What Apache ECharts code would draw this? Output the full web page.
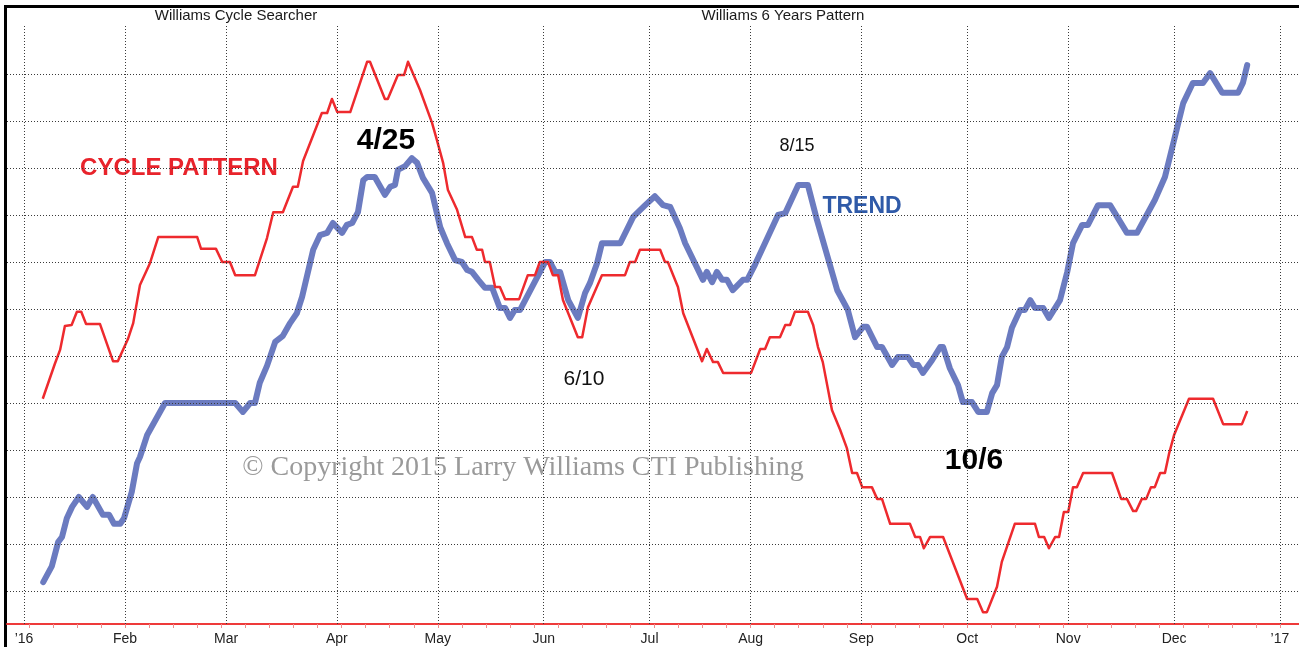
<!DOCTYPE html>
<html>
<head>
    <meta charset="utf-8">
    <title>Williams Cycle Pattern 2016</title>
    <script src="https://cdn.jsdelivr.net/npm/echarts@6/dist/echarts.min.js"></script>
    <style>
        html, body { margin: 0; padding: 0; background: #fff; }
    </style>
</head>
<body>
    <div id="main" style="width: 1299px;height:647px;"></div>
    <script type="text/javascript">
    // x = weekday index from Jan 1 2016, y = chart units (one dotted line per unit)
    var monthStarts = [0, 21, 42, 65, 86, 108, 130, 151, 174, 196, 217, 239, 261];
    var monthLabels = ['\u201916', 'Feb', 'Mar', 'Apr', 'May', 'Jun', 'Jul', 'Aug', 'Sep', 'Oct', 'Nov', 'Dec', '\u201917'];
    var gridLevels = [1, 2, 3, 4, 5, 6, 7, 8, 9, 10, 11, 12];

    // red line
    var cyclePattern = [
        [3.9,5.09],[6.4,5.83],[7.5,6.13],[8.5,6.64],[9.9,6.66],[11.0,6.94],[11.9,6.94],[12.9,6.68],[15.8,6.68],[18.5,5.89],
        [19.5,5.89],[21.6,6.36],[22.7,6.70],[24.1,7.51],[26.2,7.98],[27.9,8.53],[36.0,8.53],[36.8,8.28],[39.9,8.28],[41.2,8.0],
        [42.8,8.0],[43.9,7.72],[48.0,7.72],[50.5,8.51],[51.8,9.06],[53.8,9.06],[55.9,9.60],[56.9,9.60],[58.0,10.15],[61.9,11.17],
        [63.0,11.17],[64.0,11.47],[65.1,11.19],[67.8,11.19],[71.3,12.26],[71.9,12.26],[75.0,11.47],[75.6,11.47],[77.7,11.98],[79.0,11.98],
        [79.8,12.26],[82.3,11.66],[84.8,10.96],[85.8,10.60],[87.1,10.11],[88.1,9.53],[90.0,9.11],[91.7,8.53],[93.1,8.53],[94.1,8.26],
        [95.2,8.26],[95.8,8.0],[96.8,8.0],[97.9,7.47],[98.9,7.47],[100.0,7.21],[102.9,7.21],[104.7,7.72],[106.2,7.72],[107.2,8.0],
        [108.9,8.0],[109.9,7.72],[111.0,7.72],[112.0,7.19],[115.1,6.40],[116.0,6.40],[117.2,7.04],[120.1,7.72],[124.9,7.72],[125.9,8.0],
        [127.0,8.0],[128.0,8.26],[132.2,8.26],[133.2,8.0],[133.8,8.0],[135.9,7.47],[137.0,6.91],[140.9,5.89],[141.9,6.15],[143.2,5.87],
        [144.2,5.87],[145.3,5.64],[151.1,5.64],[153.0,6.15],[154.0,6.15],[155.0,6.40],[157.1,6.40],[158.2,6.66],[159.2,6.66],[160.2,6.94],
        [162.9,6.94],[164.0,6.66],[165.0,6.19],[166.0,5.87],[167.9,4.85],[169.6,4.43],[171.0,4.04],[172.1,3.51],[173.1,3.51],[174.2,3.21],
        [176.2,3.21],[177.3,2.96],[178.3,2.96],[180.0,2.43],[184.1,2.43],[185.2,2.15],[186.2,2.15],[187.0,1.91],[188.3,2.15],[191.0,2.15],
        [196.0,0.83],[198.1,0.83],[199.3,0.55],[200.1,0.55],[202.2,1.09],[203.2,1.62],[205.9,2.43],[210.1,2.43],[210.9,2.15],[212.0,2.15],
        [213.0,1.91],[214.3,2.15],[215.1,2.15],[216.1,2.68],[217.0,2.68],[218.0,3.21],[218.8,3.21],[220.1,3.51],[226.1,3.51],[228.0,2.96],
        [229.2,2.96],[230.5,2.70],[231.1,2.70],[232.3,2.96],[233.2,2.96],[234.2,3.21],[235.0,3.21],[236.1,3.51],[237.1,3.51],[238.0,3.94],
        [239.0,4.32],[242.1,5.09],[247.1,5.09],[249.2,4.55],[253.1,4.55],[254.2,4.83]
    ];

    // blue line
    var trend = [
        [4.0,1.19],[5.8,1.53],[7.1,2.04],[7.9,2.15],[8.9,2.55],[10.0,2.79],[11.4,3.0],[13.1,2.79],[14.3,3.0],[16.4,2.62],
        [17.7,2.62],[18.7,2.43],[20.0,2.43],[20.8,2.55],[22.4,3.11],[23.5,3.72],[24.1,3.85],[25.6,4.32],[29.3,5.0],[43.9,5.0],
        [45.5,4.81],[47.0,5.0],[48.0,5.0],[49.0,5.43],[50.5,5.79],[52.2,6.30],[53.8,6.43],[55.3,6.70],[56.7,6.91],[57.8,7.26],
        [60.1,8.26],[61.5,8.57],[63.0,8.62],[64.2,8.83],[66.1,8.62],[67.1,8.79],[68.2,8.83],[69.4,9.06],[70.5,9.74],[71.3,9.81],
        [72.9,9.81],[75.0,9.43],[76.1,9.60],[77.1,9.64],[77.7,9.96],[79.2,10.04],[80.6,10.21],[81.7,10.11],[82.9,9.79],[84.8,9.47],
        [86.5,8.74],[87.9,8.40],[89.6,8.04],[91.0,8.0],[92.1,7.83],[93.1,7.79],[94.4,7.62],[95.8,7.45],[97.3,7.45],[98.9,7.02],
        [100.0,7.02],[101.0,6.81],[102.0,6.98],[103.1,6.98],[108.3,8.0],[109.3,8.0],[110.4,7.79],[111.4,7.79],[113.1,7.19],[115.1,6.81],
        [116.6,7.34],[117.6,7.55],[119.1,7.98],[120.1,8.40],[123.9,8.40],[126.6,8.96],[127.6,9.06],[129.1,9.21],[131.1,9.40],[132.8,9.21],
        [134.3,9.17],[136.3,8.72],[137.4,8.40],[141.1,7.62],[141.9,7.79],[143.0,7.57],[144.0,7.79],[145.1,7.62],[146.1,7.62],[147.3,7.40],
        [149.4,7.62],[150.3,7.62],[151.9,7.94],[156.7,9.0],[158.2,9.04],[160.9,9.64],[162.9,9.64],[164.8,8.89],[169.0,7.40],[171.2,6.98],
        [172.7,6.40],[174.4,6.62],[175.2,6.62],[177.3,6.19],[178.3,6.19],[180.4,5.81],[181.6,5.98],[183.7,5.98],[184.8,5.81],[185.8,5.81],
        [186.8,5.64],[188.7,5.91],[190.4,6.19],[191.0,6.19],[192.4,5.74],[194.1,5.38],[195.1,5.02],[197.0,5.02],[198.3,4.81],[200.1,4.81],
        [201.2,5.21],[202.2,5.38],[203.2,5.98],[204.3,6.19],[205.3,6.60],[207.0,6.98],[208.0,6.98],[209.1,7.19],[210.1,7.02],[211.8,7.02],
        [213.0,6.81],[215.3,7.19],[216.8,7.79],[218.0,8.40],[219.9,8.79],[221.1,8.79],[223.2,9.21],[225.7,9.21],[229.2,8.62],[231.3,8.62],
        [235.0,9.32],[237.1,9.81],[240.9,11.38],[242.9,11.81],[245.0,11.81],[246.5,12.02],[249.0,11.60],[252.3,11.60],[253.3,11.81],[254.2,12.19]
    ];

    // weekly ticks on Mondays
    var weekTicks = [];
    for (var w = 1; w <= 261; w += 5) weekTicks.push(w);

    var dotted = { color: '#3a3a3a', type: [1, 2], width: 1 };
    var gridMarks = [];
    for (var i = 0; i < gridLevels.length; i++) gridMarks.push({ yAxis: gridLevels[i] });
    for (var j = 0; j < monthStarts.length; j++) gridMarks.push({ xAxis: monthStarts[j] });

    var myChart = echarts.init(document.getElementById('main'));
    var option = {
        animation: false,
        grid: { left: 7, right: 0, top: 24, bottom: 23 },
        xAxis: {
            type: 'value',
            min: -3.53,
            max: 264.96,
            splitLine: { show: false },
            axisLine: { lineStyle: { color: '#ee3a3a', width: 2 } },
            axisTick: {
                customValues: weekTicks,
                length: 4,
                lineStyle: { color: '#f08c8c', width: 1 }
            },
            axisLabel: {
                customValues: monthStarts,
                margin: 8,
                color: '#222',
                fontSize: 14,
                fontFamily: '"Liberation Sans", Arial, sans-serif',
                formatter: function (v) {
                    var k = monthStarts.indexOf(Math.round(v));
                    return k >= 0 ? monthLabels[k] : '';
                }
            }
        },
        yAxis: {
            type: 'value',
            min: 0.298,
            max: 13.064,
            show: false
        },
        graphic: [
            { type: 'rect', shape: { x: 4, y: 5, width: 3, height: 642 }, style: { fill: '#000' } },
            { type: 'rect', shape: { x: 4, y: 5, width: 1295, height: 3 }, style: { fill: '#000' } },
            { type: 'text', x: 236, y: 16, style: { text: 'Williams Cycle Searcher', font: '15px "Liberation Sans", Arial', fill: '#1a1a1a', align: 'center', verticalAlign: 'middle' } },
            { type: 'text', x: 783, y: 16, style: { text: 'Williams 6 Years Pattern', font: '15px "Liberation Sans", Arial', fill: '#1a1a1a', align: 'center', verticalAlign: 'middle' } },
            { type: 'text', x: 523, y: 468, z: 1, style: { text: '\u00a9 Copyright 2015 Larry Williams CTI Publishing', font: '28px "Liberation Serif", "DejaVu Serif", serif', fill: '#9a9a9a', align: 'center', verticalAlign: 'middle' } },
            { type: 'text', x: 179, y: 168, style: { text: 'CYCLE PATTERN', font: 'bold 24px "Liberation Sans", Arial', fill: '#e8232b', align: 'center', verticalAlign: 'middle' } },
            { type: 'text', x: 386, y: 141, style: { text: '4/25', font: 'bold 30px "Liberation Sans", Arial', fill: '#000', align: 'center', verticalAlign: 'middle' } },
            { type: 'text', x: 797, y: 146, style: { text: '8/15', font: '18px "Liberation Sans", Arial', fill: '#111', align: 'center', verticalAlign: 'middle' } },
            { type: 'text', x: 862, y: 207, style: { text: 'TREND', font: 'bold 23px "Liberation Sans", Arial', fill: '#2f5aa8', align: 'center', verticalAlign: 'middle' } },
            { type: 'text', x: 584, y: 379, style: { text: '6/10', font: '21px "Liberation Sans", Arial', fill: '#111', align: 'center', verticalAlign: 'middle' } },
            { type: 'text', x: 974, y: 461, style: { text: '10/6', font: 'bold 30px "Liberation Sans", Arial', fill: '#000', align: 'center', verticalAlign: 'middle' } }
        ],
        series: [
            {
                name: 'grid',
                type: 'line',
                data: [],
                silent: true,
                z: 0,
                markLine: {
                    silent: true,
                    symbol: ['none', 'none'],
                    label: { show: false },
                    lineStyle: dotted,
                    emphasis: { disabled: true },
                    data: gridMarks
                }
            },
            {
                name: 'TREND',
                type: 'line',
                data: trend,
                showSymbol: false,
                z: 3,
                lineStyle: { color: '#6b7bc0', width: 6, join: 'round', cap: 'round' }
            },
            {
                name: 'CYCLE PATTERN',
                type: 'line',
                data: cyclePattern,
                showSymbol: false,
                z: 4,
                lineStyle: { color: '#ee2a2e', width: 2.5, join: 'round' }
            }
        ]
    };
    myChart.setOption(option);
    </script>
</body>
</html>
